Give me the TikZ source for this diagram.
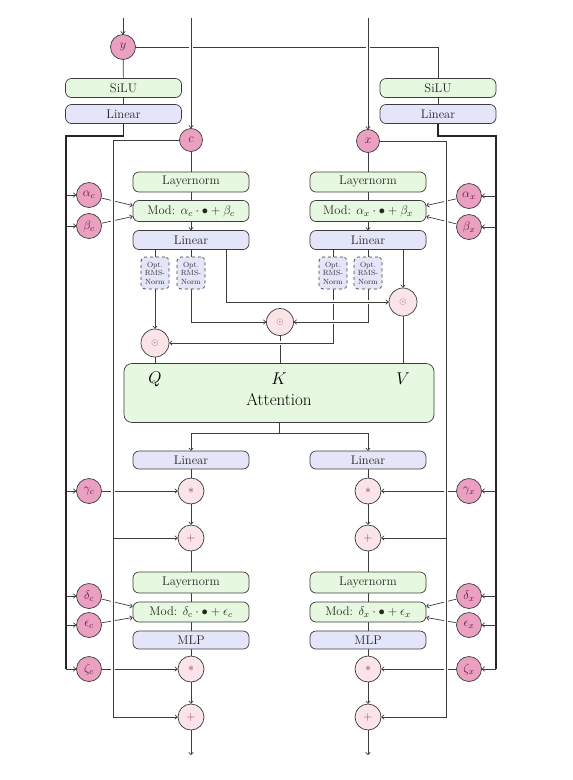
\RequirePackage{fix-cm}
\documentclass[tikz,border=0pt]{standalone}
\usetikzlibrary{arrows.meta,backgrounds,calc}
\definecolor{gfill}{HTML}{E6F8E0}
\definecolor{bfill}{HTML}{E4E5F8}
\definecolor{pfill}{HTML}{EBA0C1}
\definecolor{ofill}{HTML}{FBE4E8}
\definecolor{lc}{HTML}{3C3C3C}
\definecolor{ptxt}{HTML}{5E1C3E}
\definecolor{otxt}{HTML}{8A3558}
\begin{document}
\begin{tikzpicture}[x=1pt,y=-1pt,
 box/.style={rectangle, rounded corners=6pt, draw=lc, line width=0.7pt, minimum width=116pt, minimum height=19pt, inner sep=0pt, font=\fontsize{12.5}{14}\selectfont, text=black!85},
 gbox/.style={box, fill=gfill},
 bbox/.style={box, fill=bfill},
 optbox/.style={rectangle, rounded corners=4pt, draw=lc, dashed, line width=0.7pt, fill=bfill, minimum width=28pt, minimum height=32pt, inner sep=0pt, align=center, font=\fontsize{7.5}{8.6}\selectfont, text=black!80},
 pc/.style={circle, draw=lc, line width=0.7pt, fill=pfill, minimum size=25pt, inner sep=0pt, font=\fontsize{12.5}{14}\selectfont, text=ptxt},
 oc/.style={circle, draw=lc, line width=0.7pt, fill=ofill, minimum size=27pt, inner sep=0pt, font=\fontsize{12}{14}\selectfont, text=otxt},
 conn/.style={draw=lc, line width=0.7pt},
 arr/.style={conn, -{To[length=3pt,width=5pt]}},
 hop/.style={preaction={draw=white, line width=4pt, -}},
 rail/.style={draw=black!85, line width=1.3pt},
]
\useasboundingbox (0,0) rectangle (573,780);

% ---------- top ----------
\coordinate (yin) at (123,18);
\coordinate (cin) at (191,18);
\coordinate (xin) at (368,18);
\node[pc] (y) at (123,47) {$y$};
\node[gbox] (silL) at (123.5,88) {SiLU};
\node[bbox] (linL) at (123.5,114) {Linear};
\node[gbox] (silR) at (438,88) {SiLU};
\node[bbox] (linR) at (438,114) {Linear};
\node[pc, minimum size=23pt] (c) at (191,140) {$c$};
\node[pc, minimum size=23pt] (x) at (368,141) {$x$};

% ---------- modulation circles ----------
\node[pc] (ac) at (89,195) {$\alpha_c$};
\node[pc] (bc) at (89,226) {$\beta_c$};
\node[pc] (gc) at (89,491) {$\gamma_c$};
\node[pc] (dc) at (89,596) {$\delta_c$};
\node[pc] (ec) at (89,625) {$\epsilon_c$};
\node[pc] (zc) at (89,669) {$\zeta_c$};
\node[pc] (ax) at (469,196) {$\alpha_x$};
\node[pc] (bx) at (469,227) {$\beta_x$};
\node[pc] (gx) at (469,491) {$\gamma_x$};
\node[pc] (dx) at (469,596) {$\delta_x$};
\node[pc] (ex) at (469,625) {$\epsilon_x$};
\node[pc] (zx) at (469,669) {$\zeta_x$};

% ---------- upper columns ----------
\node[gbox, minimum height=20pt] (ln1c) at (191,182) {Layernorm};
\node[gbox, minimum height=21pt] (mod1c) at (191,211) {Mod: $\alpha_c\cdot\bullet+\beta_c$};
\node[bbox] (lin1c) at (191,240) {Linear};
\node[gbox, minimum height=20pt] (ln1x) at (368,182) {Layernorm};
\node[gbox, minimum height=21pt] (mod1x) at (368,211) {Mod: $\alpha_x\cdot\bullet+\beta_x$};
\node[bbox] (lin1x) at (368,240) {Linear};

\node[optbox] (oqc) at (155,273) {Opt.\\RMS-\\Norm};
\node[optbox] (okc) at (191,273) {Opt.\\RMS-\\Norm};
\node[optbox] (oqx) at (333,273) {Opt.\\RMS-\\Norm};
\node[optbox] (okx) at (368,273) {Opt.\\RMS-\\Norm};

\node[oc, minimum size=28pt, font=\fontsize{9}{10}\selectfont] (vc) at (403,302) {$\odot$};
\node[oc, font=\fontsize{9}{10}\selectfont] (kc) at (280,322) {$\odot$};
\node[oc, minimum size=28pt, font=\fontsize{9}{10}\selectfont] (qc) at (155,343) {$\odot$};

\node[rectangle, rounded corners=8pt, draw=lc, line width=0.7pt, fill=gfill, minimum width=310pt, minimum height=59pt, inner sep=0pt] (attn) at (279,393) {};
\node[font=\fontsize{17}{20}\selectfont] (ql) at (155,379) {$Q$};
\node[font=\fontsize{17}{20}\selectfont] (kl) at (279,379) {$K$};
\node[font=\fontsize{17}{20}\selectfont] (vl) at (403,379) {$V$};
\node[font=\fontsize{17}{20}\selectfont] (at) at (279,400) {Attention};

% ---------- lower columns ----------
\node[bbox, minimum height=18pt] (lin2c) at (191,460) {Linear};
\node[oc, minimum size=26pt] (s1c) at (191,491) {$*$};
\node[oc, minimum size=26pt] (p1c) at (191,538) {$+$};
\node[gbox, minimum height=21pt] (ln2c) at (191,582.5) {Layernorm};
\node[gbox, minimum height=20pt] (mod2c) at (191,612) {Mod: $\delta_c\cdot\bullet+\epsilon_c$};
\node[bbox, minimum height=18pt] (mlpc) at (191,640) {MLP};
\node[oc, minimum size=26pt] (s2c) at (191,669) {$*$};
\node[oc, minimum size=26pt] (p2c) at (191,717) {$+$};
\coordinate (outc) at (191,755);

\node[bbox, minimum height=18pt] (lin2x) at (368,460) {Linear};
\node[oc, minimum size=26pt] (s1x) at (368,491) {$*$};
\node[oc, minimum size=26pt] (p1x) at (368,538) {$+$};
\node[gbox, minimum height=21pt] (ln2x) at (368,582.5) {Layernorm};
\node[gbox, minimum height=20pt] (mod2x) at (368,612) {Mod: $\delta_x\cdot\bullet+\epsilon_x$};
\node[bbox, minimum height=18pt] (mlpx) at (368,640) {MLP};
\node[oc, minimum size=26pt] (s2x) at (368,669) {$*$};
\node[oc, minimum size=26pt] (p2x) at (368,717) {$+$};
\coordinate (outx) at (368,755);

\coordinate (crl) at (113,717);
\coordinate (crr) at (446,717);
\coordinate (sp) at (279,433);

\begin{pgfonlayer}{background}
% top
\draw[arr] (yin) -- (y);
\draw[conn] (y) -- (silL);
\draw[conn] (silL) -- (linL);
\draw[conn] (y.east) -- (438,47) -- (silR.north);
\draw[conn] (silR) -- (linR);
\draw[arr,hop] (cin) -- (c);
\draw[arr,hop] (xin) -- (x);

% rails of modulation parameters
\draw[rail] (linL.south) -- ++(0,12) -| (66,669);
\draw[rail] (linR.south) -- ++(0,12) -| (496,669);
\foreach \n/\yy in {ac/195,bc/226,gc/491,dc/596,ec/625,zc/669}{
  \draw[arr] (66,\yy) -- (\n);
}
\foreach \n/\yy in {ax/196,bx/227,gx/491,dx/596,ex/625,zx/669}{
  \draw[arr] (496,\yy) -- (\n);
}

% modulation links
\draw[arr] (ac) -- ($(mod1c.west)+(0,-5.5)$);
\draw[arr] (bc) -- ($(mod1c.west)+(0,5.5)$);
\draw[arr] (ax) -- ($(mod1x.east)+(0,-5.5)$);
\draw[arr] (bx) -- ($(mod1x.east)+(0,5.5)$);
\draw[arr] (dc) -- ($(mod2c.west)+(0,-5.5)$);
\draw[arr] (ec) -- ($(mod2c.west)+(0,5.5)$);
\draw[arr] (dx) -- ($(mod2x.east)+(0,-5.5)$);
\draw[arr] (ex) -- ($(mod2x.east)+(0,5.5)$);
\draw[arr] (gc) -- (s1c);
\draw[arr] (zc) -- (s2c);
\draw[arr] (gx) -- (s1x);
\draw[arr] (zx) -- (s2x);

% residual rails
\draw[arr,hop] (c.west) -| (crl) -- (p2c);
\draw[arr] (113,538) -- (p1c);
\draw[arr,hop] (x.east) -| (crr) -- (p2x);
\draw[arr] (446,538) -- (p1x);

% upper columns
\draw[conn] (c) -- (ln1c);
\draw[conn] (ln1c) -- (mod1c);
\draw[arr] (mod1c) -- (lin1c);
\draw[conn] (x) -- (ln1x);
\draw[conn] (ln1x) -- (mod1x);
\draw[arr] (mod1x) -- (lin1x);

\draw[conn] (lin1c.south -| oqc) -- (oqc);
\draw[conn] (lin1c.south -| okc) -- (okc);
\draw[conn] (lin1x.south -| oqx) -- (oqx);
\draw[conn] (lin1x.south -| okx) -- (okx);

\draw[conn] (kc.south) -- (kc.south |- attn.north);
\draw[conn] (qc.south) -- (qc.south |- attn.north);
\draw[conn] (vc.south) -- (vc.south |- attn.north);
\draw[arr] (oqc) -- (qc);
\draw[arr,hop] (oqx.south) |- (qc.east);
\draw[arr,hop] (okc.south) |- (kc.west);
\draw[arr,hop] (okx.south) |- (kc.east);
\draw[arr,hop] (226,249.5) |- (vc.west);
\draw[arr] (lin1x.south -| vc) -- (vc);

% attention output
\draw[conn] (attn.south) -- (sp);
\draw[arr] (sp) -| (lin2c.north);
\draw[arr] (sp) -| (lin2x.north);

% lower columns
\draw[conn] (lin2c) -- (s1c);
\draw[arr] (s1c) -- (p1c);
\draw[conn] (p1c) -- (ln2c);
\draw[conn] (ln2c) -- (mod2c);
\draw[conn] (mod2c) -- (mlpc);
\draw[conn] (mlpc) -- (s2c);
\draw[arr] (s2c) -- (p2c);
\draw[arr] (p2c) -- (outc);
\draw[conn] (lin2x) -- (s1x);
\draw[arr] (s1x) -- (p1x);
\draw[conn] (p1x) -- (ln2x);
\draw[conn] (ln2x) -- (mod2x);
\draw[conn] (mod2x) -- (mlpx);
\draw[conn] (mlpx) -- (s2x);
\draw[arr] (s2x) -- (p2x);
\draw[arr] (p2x) -- (outx);
\end{pgfonlayer}
\end{tikzpicture}
\end{document}
